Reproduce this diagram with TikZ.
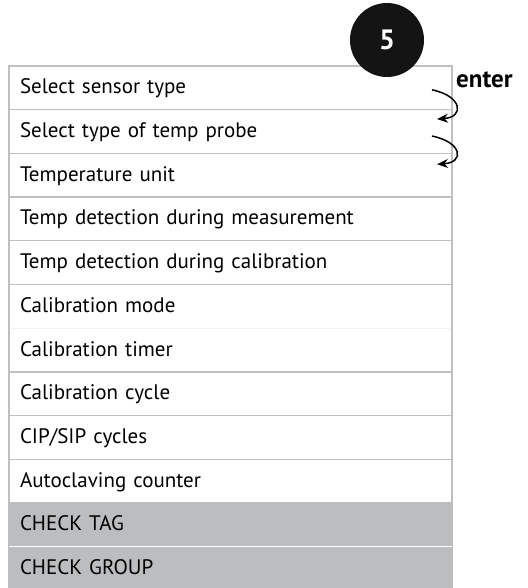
\documentclass[tikz,border=0pt]{standalone}
\usepackage{fontspec}
\setmainfont{PT Sans}
\usetikzlibrary{arrows.meta,calc}
\definecolor{rowline}{RGB}{192,192,192}
\definecolor{rowgray}{RGB}{188,189,191}
\definecolor{faintline}{RGB}{244,244,244}
\begin{document}
\begin{tikzpicture}[x=1pt,y=-1pt,
  rowbox/.style={draw=rowline, line width=1.3pt, fill=white, minimum width=443pt,
    minimum height=43.7pt, anchor=north west, inner xsep=11pt, inner ysep=0pt,
    outer sep=0pt, text width=421pt, align=left, text height=12pt, text depth=0pt,
    font=\fontsize{21}{21}\selectfont},
  openrow/.style={rowbox, draw=none},
  grayrow/.style={rowbox, fill=rowgray, draw=rowgray},
  enterarrow/.style={line width=1.5pt, -{Stealth[length=11pt,width=9pt,inset=3.5pt]}}]
\useasboundingbox (0,0) rectangle (527,588);
\node[rowbox] (r1) at (9,66) {Select sensor type};
\node[rowbox] (r2) at (9,109.7) {Select type of temp probe};
\node[rowbox] (r3) at (9,153.4) {Temperature unit};
\node[rowbox] (r4) at (9,197.1) {Temp detection during measurement};
\node[rowbox] (r5) at (9,240.8) {Temp detection during calibration};
\node[openrow] (r6) at (9,284.5) {Calibration mode};
\node[openrow] (r7) at (9,328.2) {Calibration timer};
\draw[faintline, line width=1.3pt] (r7.north west) -- (r7.north east);
\draw[rowline, line width=1.3pt] (r6.north west) rectangle (r7.south east);
\node[rowbox] (r8) at (9,371.9) {Calibration cycle};
\node[rowbox] (r9) at (9,415.6) {CIP/SIP cycles};
\node[rowbox] (r10) at (9,459.3) {Autoclaving counter};
\node[grayrow] (r11) at (9,503) {CHECK TAG};
\node[grayrow] (r12) at (9,546.7) {CHECK GROUP};
\draw[white, line width=1.5pt] (r12.north west) -- (r12.north east);
\node[circle, fill=black!92, minimum size=74pt, inner sep=0pt, text=white,
  font=\fontsize{28}{28}\selectfont\bfseries] (c5) at (387,40) {5};
\node[anchor=base west, inner sep=0pt, font=\fontsize{25}{25}\selectfont\bfseries] (enter) at (456,88) {enter};
\draw[enterarrow] ($(r1.east)+(-20,2)$) .. controls +(30,6) and +(28,-2) .. ($(r2.east)+(-15,-12.5)$);
\draw[enterarrow] ($(r2.east)+(-20,4.5)$) .. controls +(30,6) and +(28,-2) .. ($(r3.east)+(-15,-11)$);
\end{tikzpicture}
\end{document}
